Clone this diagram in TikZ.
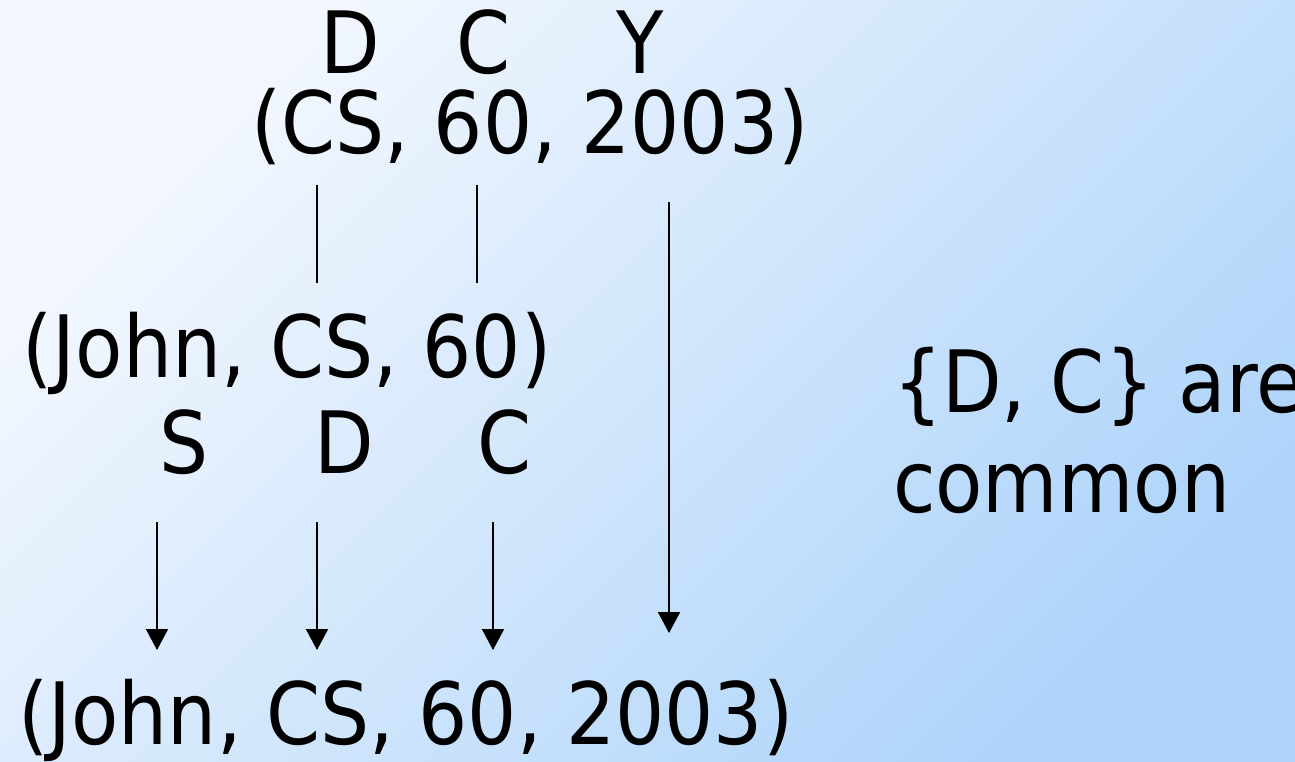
\documentclass[tikz,border=0pt]{standalone}
\usepackage{fontspec}
\setmainfont{DejaVu Sans}[FakeStretch=0.9]
\usetikzlibrary{arrows.meta}
\definecolor{bgA}{RGB}{244,248,254}
\definecolor{bgB}{RGB}{174,212,250}
\begin{document}
\begin{tikzpicture}[x=1pt,y=-1pt,
  txt/.style={inner sep=0pt, outer sep=0pt, font=\fontsize{86}{100}\selectfont, text=black},
  link/.style={line width=2pt, draw=black},
  arr/.style={link, -{Triangle[width=22pt,length=21pt]}}]
\shade[top color=bgA, bottom color=bgB, shading angle=45] (0,0) rectangle (1295,761);
\useasboundingbox (0,0) rectangle (1295,761);
% top tuple
\node[txt, anchor=base] (tD) at (350,73) {D};
\node[txt, anchor=base] (tC) at (484,73) {C};
\node[txt, anchor=base] (tY) at (640,73) {Y};
\node[txt, anchor=base] (top) at (530,153) {(CS, 60, 2003)};
% middle tuple
\node[txt, anchor=base] (mid) at (287,377) {(John, CS, 60)};
\node[txt, anchor=base] (mS) at (184,473) {S};
\node[txt, anchor=base] (mD) at (344,473) {D};
\node[txt, anchor=base] (mC) at (505,473) {C};
% result tuple
\node[txt, anchor=base] (bot) at (406,744) {(John, CS, 60, 2003)};
% note
\node[txt, anchor=base west] (note1) at (893,412) {\{D, C\} are};
\node[txt, anchor=base west] (note2) at (893,512) {common};
% connector end points
\coordinate (dA) at (317,185); \coordinate (dB) at (317,283);
\coordinate (cA) at (477,185); \coordinate (cB) at (477,283);
\coordinate (yA) at (669,202); \coordinate (yB) at (669,633);
\coordinate (sA) at (157,522); \coordinate (sB) at (157,650);
\coordinate (d2A) at (317,522); \coordinate (d2B) at (317,650);
\coordinate (c2A) at (493,522); \coordinate (c2B) at (493,650);
\draw[link] (dA) -- (dB);
\draw[link] (cA) -- (cB);
\draw[arr] (yA) -- (yB);
\draw[arr] (sA) -- (sB);
\draw[arr] (d2A) -- (d2B);
\draw[arr] (c2A) -- (c2B);
\end{tikzpicture}
\end{document}
